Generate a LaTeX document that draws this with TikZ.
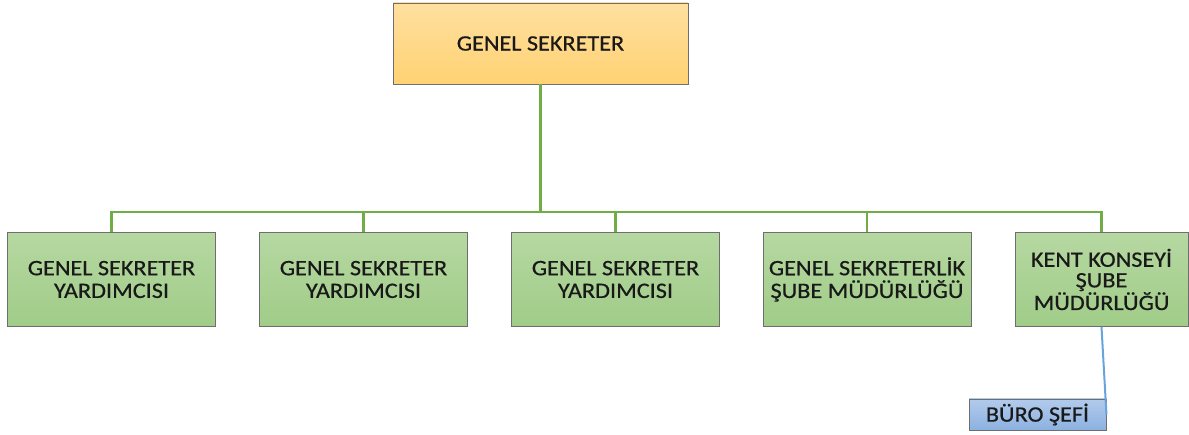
\documentclass[tikz,border=0pt]{standalone}
\usepackage{fontspec}
\setmainfont{Carlito}[FakeStretch=1.1,FakeBold=0.6]
\definecolor{conngreen}{RGB}{112,173,71}
\definecolor{connblue}{RGB}{104,163,220}
\definecolor{boxline}{RGB}{110,110,110}
\definecolor{txt}{RGB}{25,25,25}
\tikzset{
  base/.style={draw=boxline, line width=0.9pt, align=center, text=txt, inner sep=0pt,
    font={\fontsize{22}{22.7}\selectfont}},
  topbox/.style={base, top color={rgb,255:red,255;green,224;blue,160}, bottom color={rgb,255:red,255;green,210;blue,115},
    minimum width=295, minimum height=81},
  greenbox/.style={base, top color={rgb,255:red,182;green,216;blue,162}, bottom color={rgb,255:red,160;green,204;blue,136},
    minimum width=208, minimum height=94},
  bluebox/.style={base, top color={rgb,255:red,178;green,203;blue,236}, bottom color={rgb,255:red,140;green,177;blue,224},
    minimum width=137, minimum height=31},
  conn/.style={draw=conngreen, line width=2.6pt},
  subconn/.style={draw=connblue, line width=2pt}
}
\begin{document}
\begin{tikzpicture}[x=1pt,y=-1pt]
\useasboundingbox (0,0) rectangle (1189,435);
\node[topbox] (gs) at (540.5,43.5) {GENEL SEKRETER};
\node[greenbox] (c1) at (111.5,279.5) {GENEL SEKRETER\\YARDIMCISI};
\node[greenbox] (c2) at (363.5,279.5) {GENEL SEKRETER\\YARDIMCISI};
\node[greenbox] (c3) at (615.5,279.5) {GENEL SEKRETER\\YARDIMCISI};
\node[greenbox] (c4) at (867,279.5) {GENEL SEKRETERLİK\\ŞUBE MÜDÜRLÜĞÜ};
\node[greenbox, minimum width=173, font={\fontsize{22}{20.6}\selectfont}] (c5) at (1101.5,279.5) {KENT KONSEYİ\\ŞUBE\\MÜDÜRLÜĞÜ};
\node[bluebox] (buro) at (1037.5,414.5) {BÜRO ŞEFİ};
\coordinate (bus) at (540.5,212);
\draw[conn] (gs.south) -- (bus);
\draw[conn] (bus) -| (c1.north);
\draw[conn] (bus) -| (c2.north);
\draw[conn] (bus) -| (c3.north);
\draw[conn] (bus) -| (c4.north);
\draw[conn] (bus) -| (c5.north);
\draw[subconn] (c5.south) -- (buro.east);
\end{tikzpicture}
\end{document}
